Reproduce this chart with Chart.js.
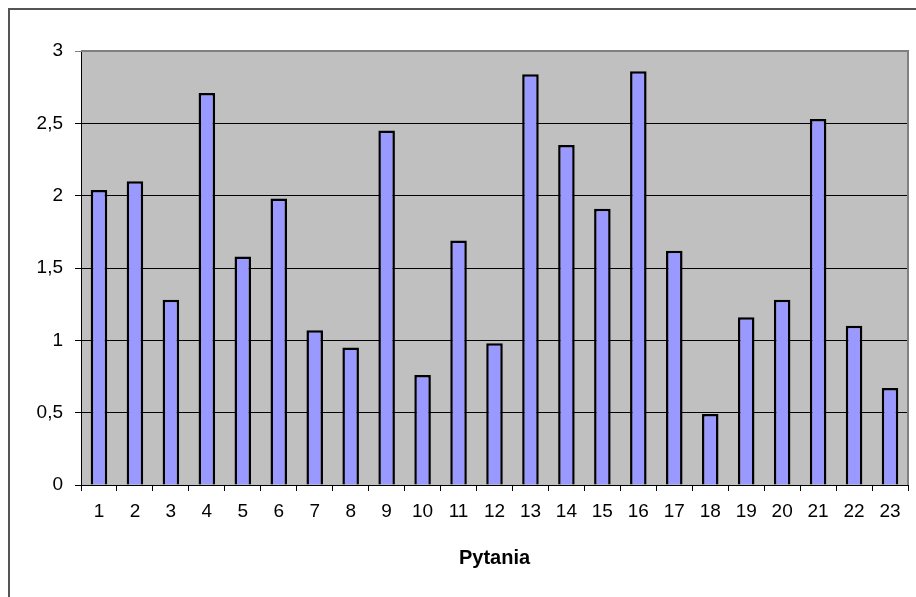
<!DOCTYPE html>
<html>
<head>
<meta charset="utf-8">
<script src="https://cdn.jsdelivr.net/npm/chart.js@4/dist/chart.umd.min.js"></script>
<style>
    html, body { margin: 0; padding: 0; background: #fff; }
    #wrap { width: 916px; height: 597px; }
</style>
</head>
<body>
<div id="wrap"><canvas id="pytaniaChart" width="916" height="597"></canvas></div>
<script>
// question numbers and their average scores
const questions = ['1', '2', '3', '4', '5', '6', '7', '8', '9', '10', '11', '12',
    '13', '14', '15', '16', '17', '18', '19', '20', '21', '22', '23'];
const scores = [2.04, 2.10, 1.28, 2.71, 1.58, 1.98, 1.07, 0.95, 2.45, 0.76, 1.69, 0.98,
    2.84, 2.35, 1.91, 2.86, 1.62, 0.49, 1.16, 1.28, 2.53, 1.10, 0.67];
const yTicks = [0, 0.5, 1, 1.5, 2, 2.5, 3];
const xTitle = 'Pytania';

// grey plot background + outer frame
const framePlugin = {
    id: 'frame',
    beforeDraw: function (chart) {
        const ctx = chart.ctx;
        const a = chart.chartArea;
        ctx.save();
        ctx.fillStyle = '#ffffff';
        ctx.fillRect(0, 0, chart.width, chart.height);
        ctx.strokeStyle = '#555555';
        ctx.lineWidth = 2;
        ctx.strokeRect(9, 9, chart.width + 20, chart.height + 20);
        ctx.fillStyle = '#C0C0C0';
        ctx.fillRect(a.left, a.top, a.right - a.left, a.bottom - a.top);
        ctx.restore();
    },
    afterDatasetsDraw: function (chart) {
        const ctx = chart.ctx;
        const a = chart.chartArea;
        ctx.save();
        ctx.strokeStyle = '#808080';
        ctx.lineWidth = 2;
        ctx.beginPath();
        ctx.moveTo(a.left, a.top);
        ctx.lineTo(a.right, a.top);
        ctx.lineTo(a.right, a.bottom);
        ctx.stroke();
        ctx.restore();
    }
};

const ctx = document.getElementById('pytaniaChart').getContext('2d');
new Chart(ctx, {
    type: 'bar',
    data: {
        labels: questions,
        datasets: [{
            data: scores,
            backgroundColor: '#9999FF',
            borderColor: '#000000',
            borderWidth: 2.5,
            barPercentage: 0.46,
            categoryPercentage: 1
        }]
    },
    options: {
        responsive: false,
        animation: false,
        layout: { padding: { top: 51, right: 8, bottom: 27, left: 0 } },
        plugins: {
            legend: { display: false },
            tooltip: { enabled: false }
        },
        scales: {
            x: {
                grid: {
                    offset: true,
                    drawOnChartArea: false,
                    drawTicks: true,
                    tickLength: 6,
                    color: '#000000'
                },
                border: { color: '#000000', width: 1 },
                ticks: {
                    color: '#000000',
                    padding: 9,
                    maxRotation: 0,
                    font: { family: 'Liberation Sans, Arial, sans-serif', size: 19 }
                },
                title: {
                    display: true,
                    text: xTitle,
                    color: '#000000',
                    padding: 0,
                    font: { family: 'Liberation Sans, Arial, sans-serif', size: 20, weight: 'bold' }
                },
                afterFit: function (scale) { scale.height = 85; }
            },
            y: {
                min: 0,
                max: 3,
                afterBuildTicks: function (scale) {
                    scale.ticks = yTicks.map(v => ({ value: v }));
                },
                grid: {
                    color: function (c) { return c.tick && c.tick.value === 3 ? '#808080' : '#000000'; },
                    lineWidth: 1,
                    tickLength: 6
                },
                border: { color: '#000000', width: 1 },
                ticks: {
                    color: '#000000',
                    padding: 12,
                    font: { family: 'Liberation Sans, Arial, sans-serif', size: 19 },
                    callback: function (value) { return String(value).replace('.', ','); }
                },
                afterFit: function (scale) { scale.width = 81; }
            }
        }
    },
    plugins: [framePlugin]
});
</script>
</body>
</html>
